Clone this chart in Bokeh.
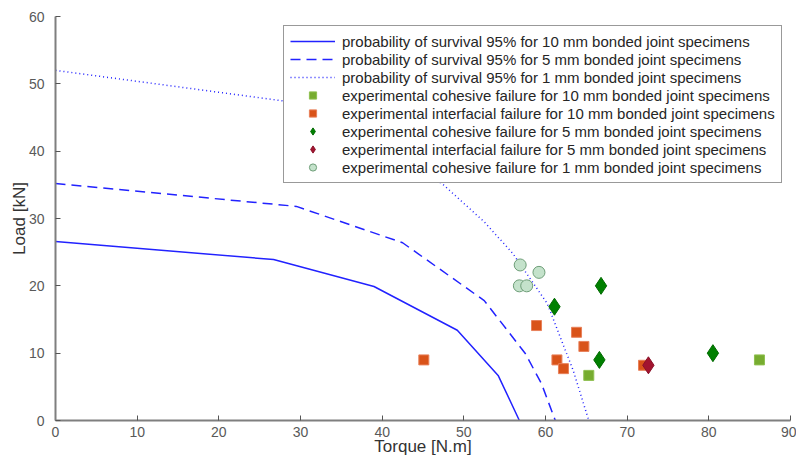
from bokeh.plotting import figure
from bokeh.models import Range1d, SingleIntervalTicker, Legend, LegendItem
from bokeh.embed import file_html
from bokeh.resources import INLINE

# Survival curves (Torque [N.m], Load [kN])
s10_x = [0, 26.7, 39.0, 49.2, 54.2, 56.8]
s10_y = [26.6, 23.9, 19.9, 13.4, 6.7, 0]
s5_x = [0, 29.5, 42.5, 52.5, 57.5, 59.5, 61.2]
s5_y = [35.2, 31.8, 26.4, 17.8, 10.0, 5.5, 0]
s1_x = [0, 29.5, 40.0, 47.5, 52.5, 56.0, 60.2, 63.4, 65.3]
s1_y = [52.0, 47.2, 41.5, 35.0, 29.5, 24.8, 17.4, 7.4, 0]

# Experimental points
c10_x = [65.3, 86.2]
c10_y = [6.7, 9.0]
i10_x = [45.1, 58.9, 63.8, 64.7, 61.4, 62.2, 72.0]
i10_y = [9.0, 14.1, 13.1, 11.0, 9.0, 7.7, 8.2]
c5_x = [66.8, 61.1, 66.6, 80.5]
c5_y = [20.0, 16.9, 9.0, 10.0]
i5_x = [72.6]
i5_y = [8.2]
c1_x = [56.9, 59.2, 56.8, 57.7]
c1_y = [23.1, 22.0, 20.0, 20.0]

labels = [
    "probability of survival 95% for 10 mm bonded joint specimens",
    "probability of survival 95% for 5 mm bonded joint specimens",
    "probability of survival 95% for 1 mm bonded joint specimens",
    "experimental cohesive failure for 10 mm bonded joint specimens",
    "experimental interfacial failure for 10 mm bonded joint specimens",
    "experimental cohesive failure for 5 mm bonded joint specimens",
    "experimental interfacial failure for 5 mm bonded joint specimens",
    "experimental cohesive failure for 1 mm bonded joint specimens",
]

FONT = "Liberation Sans"

p = figure(frame_width=735, frame_height=404, output_backend="svg", toolbar_location=None,
           x_range=Range1d(0, 90), y_range=Range1d(0, 60),
           min_border_left=55, min_border_right=6, min_border_top=16, min_border_bottom=44)
p.outline_line_color = None
p.grid.visible = False
p.background_fill_color = "white"

for ax in (p.xaxis[0], p.yaxis[0]):
    ax.ticker = SingleIntervalTicker(interval=10)
    ax.minor_tick_line_color = None
    ax.major_tick_in = 5
    ax.major_tick_out = 0
    ax.axis_line_color = "#7f7f7f"
    ax.axis_line_width = 2
    ax.major_tick_line_color = "#555555"
    ax.major_label_text_color = "#595959"
    ax.major_label_text_font = FONT
    ax.major_label_text_font_size = "14px"
    ax.axis_label_text_font = FONT
    ax.axis_label_text_font_size = "17px"
    ax.axis_label_text_font_style = "normal"
    ax.axis_label_text_color = "#333333"

p.xaxis.axis_label = "Torque [N.m]"
p.yaxis.axis_label = "Load [kN]"
p.xaxis.major_label_standoff = 2
p.yaxis.major_label_standoff = 7
p.xaxis.axis_label_standoff = -3
p.yaxis.axis_label_standoff = -3

blue = "#2222ff"
r1 = p.line(s10_x, s10_y, line_color=blue, line_width=1.5)
r2 = p.line(s5_x, s5_y, line_color=blue, line_width=1.5, line_dash="10 6")
r3 = p.line(s1_x, s1_y, line_color=blue, line_width=1.5, line_dash="1 3")

r4 = p.scatter(c10_x, c10_y, marker="square", size=10, fill_color="#77ac30", line_color="#8fc050")
r5 = p.scatter(i10_x, i10_y, marker="square", size=10, fill_color="#d95319", line_color="#e8805a")
r6 = p.scatter(c5_x, c5_y, marker="diamond", size=17, fill_color="#008000", line_color="#006a00")
r7 = p.scatter(i5_x, i5_y, marker="diamond", size=17, fill_color="#a2142f", line_color="#8a1028")
r8 = p.scatter(c1_x, c1_y, marker="circle", size=12, fill_color="#c4e2cb", line_color="#6e9e78")

renderers = [r1, r2, r3, r4, r5, r6, r7, r8]
items = [LegendItem(label=l, renderers=[r]) for l, r in zip(labels, renderers)]
legend = Legend(items=items, location=(228, 237), margin=0, padding=6, spacing=0,
                glyph_width=45, glyph_height=18, label_height=18, label_standoff=7,
                label_text_font=FONT, label_text_font_size="15px", label_text_color="#262626",
                border_line_color="#333333", border_line_width=1,
                background_fill_color="white", background_fill_alpha=1)
p.add_layout(legend, "center")

open("out.html", "w").write(file_html(p, INLINE))
